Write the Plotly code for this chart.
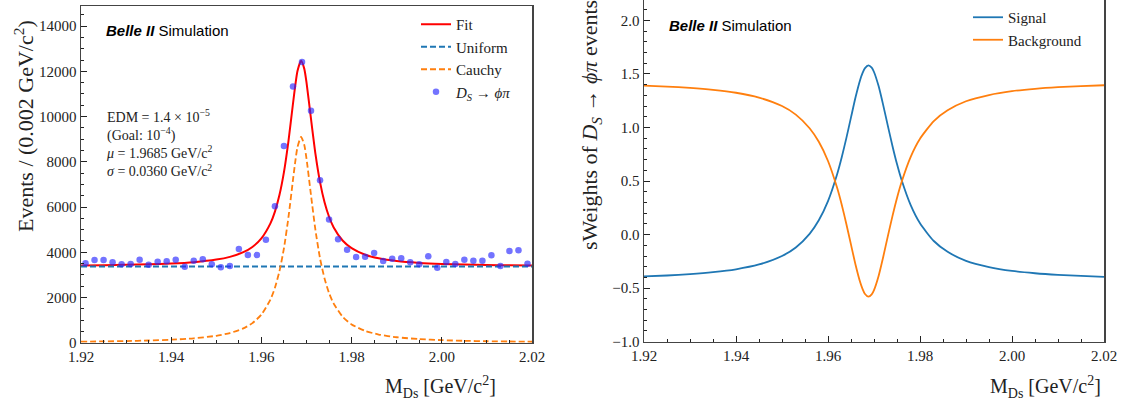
import plotly.graph_objects as go

# ---------------- data ----------------
bin_centers = [1.921, 1.923, 1.925, 1.927, 1.929, 1.931, 1.933, 1.935, 1.937, 1.939,
               1.941, 1.943, 1.945, 1.947, 1.949, 1.951, 1.953, 1.955, 1.957, 1.959,
               1.961, 1.963, 1.965, 1.967, 1.969, 1.971, 1.973, 1.975, 1.977, 1.979,
               1.981, 1.983, 1.985, 1.987, 1.989, 1.991, 1.993, 1.995, 1.997, 1.999,
               2.001, 2.003, 2.005, 2.007, 2.009, 2.011, 2.013, 2.015, 2.017, 2.019]
counts = [3510, 3655, 3655, 3555, 3465, 3480, 3670, 3450, 3580, 3600,
          3670, 3360, 3625, 3690, 3465, 3335, 3390, 4140, 3875, 3875,
          4555, 6035, 8695, 11335, 12410, 10255, 7180, 5445, 4570, 4110,
          3790, 3800, 3965, 3610, 3715, 3730, 3555, 3465, 3820, 3315,
          3570, 3480, 3670, 3625, 3625, 3865, 3390, 4055, 4085, 3490]

curve_x = [1.920, 1.925, 1.930, 1.935, 1.940, 1.945, 1.950, 1.953, 1.956, 1.958,
           1.960, 1.962, 1.963, 1.964, 1.965, 1.966, 1.967, 1.9675, 1.968, 1.9688,
           1.9695, 1.970, 1.971, 1.972, 1.973, 1.974, 1.975, 1.976, 1.978, 1.980,
           1.983, 1.986, 1.990, 1.995, 2.000, 2.005, 2.010, 2.015, 2.020]
fit_y = [3417, 3428, 3443, 3467, 3502, 3563, 3675, 3796, 4003, 4235,
         4613, 5276, 5799, 6529, 7546, 8919, 10567, 11366, 12018, 12470,
         12120, 11513, 9893, 8326, 7100, 6208, 5569, 5110, 4520, 4180,
         3891, 3732, 3611, 3530, 3483, 3454, 3435, 3422, 3412]
cauchy_y = [47, 58, 73, 97, 132, 193, 305, 426, 633, 865,
            1243, 1906, 2429, 3159, 4176, 5549, 7197, 7996, 8648, 9100,
            8750, 8143, 6523, 4956, 3730, 2838, 2199, 1740, 1150, 810,
            521, 362, 241, 160, 113, 84, 65, 52, 42]
uniform_x = [1.92, 2.02]
uniform_y = [3370, 3370]

sw_signal = [-0.390, -0.382, -0.369, -0.351, -0.324, -0.279, -0.200, -0.120, 0.007, 0.134,
             0.313, 0.566, 0.724, 0.903, 1.094, 1.284, 1.446, 1.507, 1.552, 1.580,
             1.558, 1.518, 1.386, 1.209, 1.017, 0.830, 0.658, 0.509, 0.272, 0.105,
             -0.060, -0.161, -0.245, -0.303, -0.339, -0.361, -0.376, -0.386, -0.394]
sw_background = [1.390, 1.382, 1.369, 1.351, 1.324, 1.279, 1.200, 1.120, 0.993, 0.866,
                 0.687, 0.434, 0.276, 0.097, -0.094, -0.284, -0.446, -0.507, -0.552, -0.580,
                 -0.558, -0.518, -0.386, -0.209, -0.017, 0.170, 0.342, 0.491, 0.728, 0.895,
                 1.060, 1.161, 1.245, 1.303, 1.339, 1.361, 1.376, 1.386, 1.394]

x_ticks = [1.92, 1.94, 1.96, 1.98, 2.00, 2.02]
x_ticklabels = ["1.92", "1.94", "1.96", "1.98", "2.00", "2.02"]
y1_ticks = [0, 2000, 4000, 6000, 8000, 10000, 12000, 14000]
y2_ticks = [-1.0, -0.5, 0.0, 0.5, 1.0, 1.5, 2.0]
y2_ticklabels = ["\u22121.0", "\u22120.5", "0.0", "0.5", "1.0", "1.5", "2.0"]

# ---------------- figure ----------------
W, H = 1131, 405
def px(x):
    return x / W
def py(y):
    return 1 - y / H

SERIF = "Liberation Serif"
SANS = "Liberation Sans"
TXT = "#222222"

fig = go.Figure()

fig.add_trace(go.Scatter(x=curve_x, y=fit_y, mode="lines", name="Fit",
                         line=dict(color="#ff0000", width=2, shape="spline", smoothing=0.6),
                         xaxis="x", yaxis="y", legend="legend"))
fig.add_trace(go.Scatter(x=uniform_x, y=uniform_y, mode="lines", name="Uniform",
                         line=dict(color="#1f77b4", width=1.8, dash="6px,3px"),
                         xaxis="x", yaxis="y", legend="legend"))
fig.add_trace(go.Scatter(x=curve_x, y=cauchy_y, mode="lines", name="Cauchy",
                         line=dict(color="#ff7f0e", width=1.8, dash="6px,3px", shape="spline", smoothing=0.6),
                         xaxis="x", yaxis="y", legend="legend"))
fig.add_trace(go.Scatter(x=bin_centers, y=counts, mode="markers",
                         name="<i>D</i><sub><i>S</i></sub> \u2192 <i>\u03d5\u03c0</i>",
                         marker=dict(color="rgba(40,40,255,0.65)", size=6.5),
                         xaxis="x", yaxis="y", legend="legend"))

fig.add_trace(go.Scatter(x=curve_x, y=sw_signal, mode="lines", name="Signal",
                         line=dict(color="#1f77b4", width=1.8, shape="spline", smoothing=0.6),
                         xaxis="x2", yaxis="y2", legend="legend2"))
fig.add_trace(go.Scatter(x=curve_x, y=sw_background, mode="lines", name="Background",
                         line=dict(color="#ff7f0e", width=1.8, shape="spline", smoothing=0.6),
                         xaxis="x2", yaxis="y2", legend="legend2"))

axis_common = dict(showgrid=False, zeroline=False, showline=True, linecolor="#444444",
                   linewidth=1.5, ticks="inside", ticklen=6, tickwidth=1, tickcolor="#222222",
                   tickfont=dict(family=SERIF, size=15, color=TXT), automargin=False)

fig.update_layout(
    width=W, height=H,
    margin=dict(l=0, r=0, t=0, b=0, pad=0, autoexpand=False),
    paper_bgcolor="white", plot_bgcolor="white",
    hovermode=False,
    xaxis=dict(axis_common, domain=[px(81), px(532)], range=[1.92, 2.02], anchor="y",
               tickvals=x_ticks, ticktext=x_ticklabels, mirror=True,
               minor=dict(dtick=0.005, tick0=1.92, ticks="inside", ticklen=3, tickcolor="#222222")),
    yaxis=dict(axis_common, domain=[py(342.7), py(6)], range=[0, 14890], anchor="x",
               tickvals=y1_ticks, ticktext=[str(v) for v in y1_ticks], mirror=True,
               minor=dict(dtick=500, tick0=0, ticks="inside", ticklen=3, tickcolor="#222222")),
    xaxis2=dict(axis_common, domain=[px(644), px(1104)], range=[1.92, 2.02], anchor="y2",
                tickvals=x_ticks, ticktext=x_ticklabels, mirror=False,
                minor=dict(dtick=0.005, tick0=1.92, ticks="inside", ticklen=3, tickcolor="#222222")),
    yaxis2=dict(axis_common, domain=[py(341.7), 1.0], range=[-1.0, 2.19], anchor="x2",
                tickvals=y2_ticks, ticktext=y2_ticklabels, mirror=True,
                minor=dict(dtick=0.1, tick0=-1.0, ticks="inside", ticklen=3, tickcolor="#222222")),
    legend=dict(x=px(416), y=py(8), xanchor="left", yanchor="top",
                bgcolor="rgba(0,0,0,0)", borderwidth=0,
                font=dict(family=SERIF, size=15, color=TXT), itemwidth=30),
    legend2=dict(x=px(968), y=py(1), xanchor="left", yanchor="top",
                 bgcolor="rgba(0,0,0,0)", borderwidth=0,
                 font=dict(family=SERIF, size=15, color=TXT), itemwidth=30),
    showlegend=True,
)

annotations = [
    # Belle II labels
    dict(x=px(104), y=py(31), text="<b><i>Belle II</i></b> Simulation",
         font=dict(family=SANS, size=15, color="black"), xanchor="left", yanchor="middle"),
    dict(x=px(667), y=py(25), text="<b><i>Belle II</i></b> Simulation",
         font=dict(family=SANS, size=15, color="black"), xanchor="left", yanchor="middle"),
    # fit info
    dict(x=px(104), y=py(105),
         text="EDM = 1.4 \u00d7 10<sup>\u22125</sup><br>(Goal: 10<sup>\u22124</sup>)<br>"
              "<i>\u03bc</i> = 1.9685 GeV/c<sup>2</sup><br><i>\u03c3</i> = 0.0360 GeV/c<sup>2</sup>",
         font=dict(family=SERIF, size=14, color=TXT), xanchor="left", yanchor="top", align="left"),
    # axis titles
    dict(x=px(24), y=py(126), text="Events / (0.002 GeV/c<sup>2</sup>)", textangle=-90,
         font=dict(family=SERIF, size=22, color=TXT), xanchor="center", yanchor="middle"),
    dict(x=px(591), y=py(125), text="sWeights of <i>D</i><sub><i>S</i></sub> \u2192 <i>\u03d5\u03c0</i> events",
         textangle=-90, font=dict(family=SERIF, size=22, color=TXT), xanchor="center", yanchor="middle"),
    dict(x=px(498), y=py(387), text="M<sub>Ds</sub> [GeV/c<sup>2</sup>]",
         font=dict(family=SERIF, size=20, color=TXT), xanchor="right", yanchor="middle"),
    dict(x=px(1103), y=py(387), text="M<sub>Ds</sub> [GeV/c<sup>2</sup>]",
         font=dict(family=SERIF, size=20, color=TXT), xanchor="right", yanchor="middle"),
]
for a in annotations:
    a.update(xref="paper", yref="paper", showarrow=False)
fig.update_layout(annotations=annotations)

# remove the default 8px page margin so the figure sits at the window origin
fig.write_html("out.html",
               config={"displayModeBar": False, "staticPlot": True},
               post_script="document.body.style.margin='0';document.body.style.overflow='hidden';")
